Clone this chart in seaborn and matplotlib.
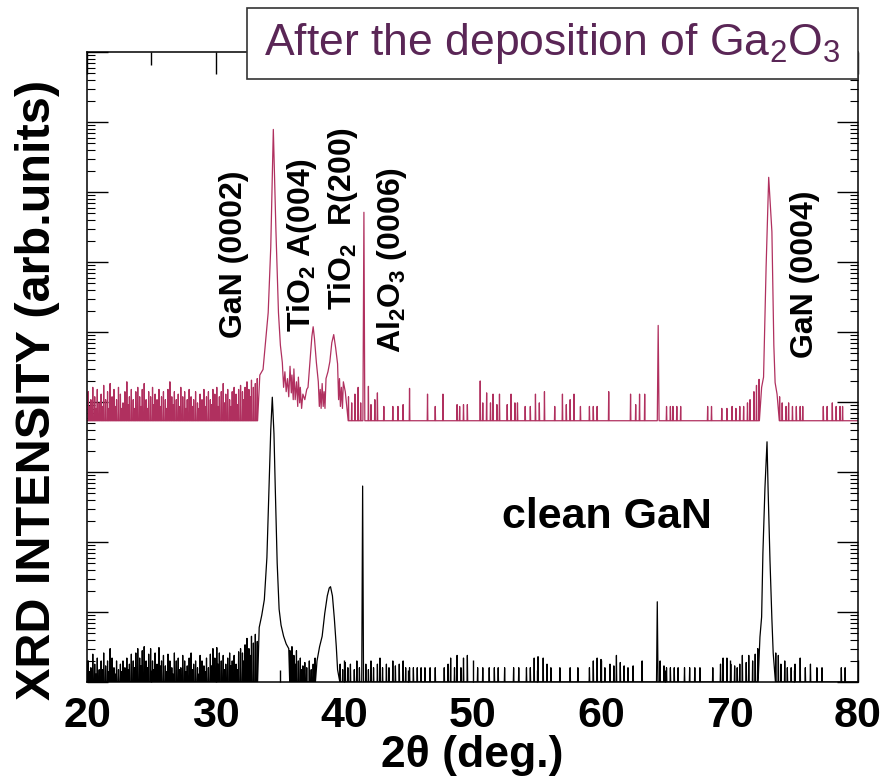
import numpy as np
import pandas as pd
import matplotlib
matplotlib.use("Agg")
import matplotlib.pyplot as plt
import seaborn as sns
from matplotlib.patches import Rectangle
from matplotlib.ticker import LogLocator, MultipleLocator, NullFormatter

# ---------------- data ----------------
# clean GaN (black): peak profiles (2theta, counts)
clean_peak_x = [33.40, 33.60, 33.80, 34.00, 34.15, 34.30, 34.42, 34.55, 34.65, 34.80, 34.95, 35.10, 35.30, 35.50, 35.70,
                37.90, 38.10, 38.30, 38.50, 38.70, 38.85, 38.95, 39.10, 39.25, 39.40, 39.50,
                41.38, 41.45, 41.52,
                64.32, 64.38, 64.44,
                72.37, 72.50, 72.60, 72.76, 72.92, 73.00, 73.15, 73.30, 73.40]
clean_peak_y = [6.0, 9.0, 15, 60, 500, 4000, 11700, 3500, 600, 50, 11, 6.5, 4.5, 3.5, 3.0,
                2.0, 3.2, 4.5, 9.5, 17, 22, 23, 17, 8, 3.2, 1.5,
                1.0, 630, 1.0,
                1.0, 14, 1.0,
                4.4, 8.5, 70, 600, 2700, 600, 55, 7.8, 2.6]
# clean GaN noise spikes (2theta, counts)
clean_spike_x = [20.1, 20.2, 20.3, 20.45, 20.6, 20.7, 20.8, 20.95, 21.1, 21.2, 21.3, 21.45, 21.6, 21.7, 21.8, 21.95,
                 22.1, 22.2, 22.3, 22.45, 22.6, 22.7, 22.8, 22.95, 23.1, 23.2, 23.3, 23.45, 23.6, 23.7, 23.8, 23.95,
                 24.1, 24.2, 24.3, 24.45, 24.6, 24.7, 24.8, 24.95, 25.1, 25.2, 25.3, 25.45, 25.6, 25.7, 25.8, 25.95,
                 26.1, 26.2, 26.3, 26.45, 26.6, 26.7, 26.8, 26.95, 27.1, 27.2, 27.3, 27.45, 27.6, 27.7, 27.8, 27.95,
                 28.1, 28.2, 28.3, 28.45, 28.6, 28.7, 28.8, 28.95, 29.1, 29.2, 29.3, 29.45, 29.6, 29.7, 29.8, 29.95,
                 30.1, 30.2, 30.3, 30.45, 30.6, 30.7, 30.8, 30.95, 31.1, 31.2, 31.3, 31.45, 31.6, 31.7, 31.8, 31.95,
                 32.1, 32.2, 32.3, 32.45, 32.6, 32.7, 32.8, 32.95, 33.1, 33.25,
                 35.8, 35.95, 36.1, 36.2, 36.3, 36.45, 36.6, 36.7, 36.8, 36.95, 37.1, 37.3, 37.45, 37.6, 37.75,
                 39.7, 39.9, 40.1, 40.3, 40.5, 40.8, 41.0, 41.2,
                 41.7, 41.9, 42.1, 42.3, 42.6, 42.8, 43.0, 43.3, 43.5, 43.8, 44.0, 44.3, 44.6, 44.8,
                 45.1, 45.4, 45.7, 46.0, 46.3, 46.7, 47.1, 47.8, 48.1, 48.3, 48.6, 48.8, 49.1, 49.3, 49.6,
                 50.4, 50.8, 51.3, 51.7, 52.0, 52.5, 53.2, 53.6, 54.2, 54.5, 54.8, 55.1, 55.5, 55.8, 56.1, 56.8,
                 57.6, 58.2, 59.1, 59.4, 59.7, 60.0, 60.3, 60.7, 61.0, 61.2, 61.5, 61.8, 62.1, 62.5, 63.2,
                 64.6, 64.9, 65.1, 65.4, 65.7, 66.0, 66.5, 66.9, 67.3, 67.7,
                 68.7, 69.3, 69.5, 69.8, 70.1, 70.4, 70.6, 70.8, 71.0, 71.3, 71.5, 71.8, 72.0, 72.2,
                 73.6, 73.8, 74.0, 74.3, 74.5, 74.8, 75.1, 75.5, 75.9, 76.3, 76.8, 77.2, 78.7, 79.0]
clean_spike_h = [2.0, 1.4, 1.6, 2.5, 1.8, 1.3, 2.2, 1.5, 2.0, 1.5, 2.6, 1.7, 2.0, 1.4, 3.0, 2.2,
                 1.6, 1.3, 2.0, 1.5, 1.8, 1.4, 2.0, 1.6, 2.2, 1.5, 1.8, 2.5, 2.0, 1.6, 2.6, 3.0,
                 2.2, 1.7, 2.8, 3.2, 2.0, 1.6, 2.5, 3.0, 2.0, 1.5, 2.6, 1.8, 3.1, 1.7, 2.0, 2.4,
                 1.7, 1.4, 2.5, 2.0, 1.6, 1.3, 2.6, 2.0, 2.2, 1.5, 1.6, 2.4, 2.0, 1.4, 1.7, 2.2,
                 2.6, 1.5, 1.8, 2.0, 1.6, 1.3, 2.4, 2.0, 1.7, 1.4, 2.2, 1.6, 2.5, 1.7, 3.0, 2.2,
                 3.1, 1.8, 2.6, 2.0, 2.4, 1.5, 1.8, 2.2, 2.6, 1.7, 2.0, 2.4, 1.8, 1.5, 2.7, 3.0,
                 2.6, 2.0, 3.4, 4.2, 3.0, 2.4, 4.5, 3.6, 4.8, 3.8,
                 2.8, 3.2, 2.4, 1.8, 2.8, 2.0, 2.2, 1.5, 1.7, 1.9, 1.6, 2.0, 1.5, 1.8, 2.2,
                 1.8, 1.5, 1.9, 1.6, 1.8, 1.5, 2.0, 1.6,
                 1.8, 1.5, 2.0, 1.6, 1.8, 2.2, 1.6, 1.8, 1.6, 2.0, 1.7, 1.8, 2.0, 1.6,
                 1.6, 1.6, 1.6, 1.6, 1.6, 1.6, 1.6, 1.6, 1.8, 2.2, 1.6, 2.4, 1.6, 2.2, 2.4,
                 1.6, 1.6, 1.6, 1.6, 1.6, 1.6, 1.6, 1.6, 1.6, 1.6, 2.2, 2.3, 2.2, 1.8, 1.6, 1.6,
                 1.6, 1.6, 1.6, 2.0, 2.2, 2.1, 1.6, 1.8, 1.7, 2.4, 1.9, 1.7, 1.6, 1.7, 2.0,
                 2.0, 1.7, 1.6, 1.6, 1.6, 1.6, 1.6, 1.6, 1.6, 1.6,
                 1.6, 1.8, 2.2, 2.2, 1.8, 1.7, 1.6, 1.8, 2.4, 1.9, 2.4, 2.0, 2.5, 3.0,
                 2.6, 2.4, 1.8, 2.0, 1.6, 1.6, 1.8, 2.2, 1.6, 1.8, 1.6, 1.6, 1.6, 1.6]

# after Ga2O3 deposition (maroon): peak profiles (2theta, counts before offset)
dep_peak_x = [33.45, 33.70, 33.90, 34.10, 34.30, 34.50, 34.70, 34.90, 35.05, 35.20, 35.30, 35.40, 35.50, 35.60,
              35.70, 35.80, 35.90, 35.95, 36.05, 36.10, 36.20, 36.30, 36.40, 36.45, 36.55, 36.60, 36.70, 36.80, 36.95, 37.10,
              37.20, 37.35, 37.50, 37.60, 37.70, 37.85, 38.00, 38.08, 38.15, 38.22, 38.30, 38.38, 38.45, 38.52, 38.60, 38.75,
              38.90, 39.05, 39.20, 39.35, 39.50, 39.58, 39.65, 39.72, 39.80, 39.88, 39.95, 40.10,
              41.47, 41.55, 41.62,
              64.38, 64.45, 64.52,
              72.50, 72.65, 72.85, 73.05, 73.30, 73.45, 73.55, 73.70]
dep_peak_y = [4.5, 5.4, 14, 35, 300, 14500, 540, 35, 12, 6.8, 3.0, 5.0, 2.6, 4.0,
              2.2, 6.0, 2.5, 4.5, 2.0, 5.5, 2.0, 3.6, 1.6, 4.2, 1.8, 3.0, 1.5, 2.4, 2.0, 2.8,
              3.0, 6.8, 16, 22, 15, 6.8, 3.6, 1.6, 2.8, 1.5, 3.4, 1.6, 2.6, 1.5, 4.0, 5.0,
              7.0, 13, 17, 11, 6.5, 2.0, 4.0, 1.6, 3.0, 1.5, 3.6, 2.6,
              1.0, 950, 1.0,
              1.0, 23, 1.0,
              3.0, 4.2, 160, 3000, 500, 12, 3.5, 2.4]
dep_spike_x = [20.1, 20.2, 20.3, 20.45, 20.6, 20.7, 20.8, 20.95, 21.1, 21.2, 21.3, 21.45, 21.6, 21.7, 21.8, 21.95,
               22.1, 22.2, 22.3, 22.45, 22.6, 22.7, 22.8, 22.95, 23.1, 23.2, 23.3, 23.45, 23.6, 23.7, 23.8, 23.95,
               24.1, 24.2, 24.3, 24.45, 24.6, 24.7, 24.8, 24.95, 25.1, 25.2, 25.3, 25.45, 25.6, 25.7, 25.8, 25.95,
               26.1, 26.2, 26.3, 26.45, 26.6, 26.7, 26.8, 26.95, 27.1, 27.2, 27.3, 27.45, 27.6, 27.7, 27.8, 27.95,
               28.1, 28.2, 28.3, 28.45, 28.6, 28.7, 28.8, 28.95, 29.1, 29.2, 29.3, 29.45, 29.6, 29.7, 29.8, 29.95,
               30.1, 30.2, 30.3, 30.45, 30.6, 30.7, 30.8, 30.95, 31.1, 31.2, 31.3, 31.45, 31.6, 31.7, 31.8, 31.95,
               32.1, 32.2, 32.3, 32.45, 32.6, 32.7, 32.8, 32.95, 33.1, 33.25,
               40.35, 40.6, 40.85, 41.1, 41.3,
               41.9, 42.1, 42.4, 42.6, 43.1, 43.8, 44.2, 44.6, 45.1,
               46.5, 47.1, 47.7, 48.8, 49.0, 49.3, 49.6, 50.6, 50.8, 51.1, 51.4, 51.6, 51.9, 52.1, 52.7, 53.0,
               53.3, 53.5, 54.1, 54.5, 54.9, 55.2, 55.6, 56.4, 57.0, 57.3, 57.6, 57.9, 58.4, 59.1, 59.4, 59.7,
               60.6, 62.3, 62.7, 63.0, 63.4,
               65.1, 65.4, 65.6, 65.9, 66.2, 68.3, 68.6, 69.4, 69.8, 70.2, 70.5, 70.8, 71.1, 71.4, 71.6, 71.9,
               72.1, 72.3,
               73.9, 74.1, 74.4, 74.6, 74.9, 75.2, 75.5, 75.7, 77.3, 77.6, 78.0, 78.3, 78.6, 78.8]
dep_spike_h = [2.6, 1.6, 2.0, 3.0, 2.2, 1.5, 2.8, 1.8, 2.4, 1.6, 3.2, 2.0, 2.6, 1.5, 3.4, 2.2,
               2.8, 1.6, 2.0, 3.0, 2.4, 1.5, 1.8, 2.6, 3.6, 1.7, 2.2, 2.8, 2.0, 1.5, 2.6, 3.0,
               2.2, 1.6, 2.8, 3.4, 2.0, 1.5, 2.6, 2.2, 3.0, 1.7, 2.4, 2.0, 2.8, 1.6, 2.2, 2.6,
               2.0, 1.5, 2.8, 3.6, 2.2, 1.7, 2.6, 2.0, 2.4, 1.6, 3.0, 2.2, 2.6, 1.5, 2.0, 2.8,
               2.2, 1.6, 2.0, 2.6, 1.8, 1.5, 2.4, 2.0, 2.8, 1.6, 2.2, 2.6, 2.0, 1.7, 2.8, 2.4,
               3.0, 1.6, 2.2, 2.6, 3.4, 1.8, 2.4, 2.8, 2.0, 1.6, 2.6, 3.0, 2.4, 1.7, 2.8, 3.2,
               2.6, 2.0, 3.0, 3.6, 2.8, 2.2, 3.8, 3.0, 3.4, 4.0,
               2.2, 1.8, 2.4, 3.0, 1.8,
               3.1, 1.7, 2.0, 2.5, 1.6, 1.6, 1.6, 1.7, 2.9,
               2.4, 1.6, 2.4, 1.7, 1.6, 1.7, 1.7, 3.7, 1.8, 2.5, 1.8, 2.4, 1.7, 2.4, 1.7, 2.4,
               1.8, 1.8, 1.6, 1.6, 2.4, 1.8, 2.6, 1.6, 2.4, 1.7, 2.0, 2.4, 1.6, 1.6, 1.6, 1.6,
               2.6, 2.4, 1.7, 2.4, 2.4,
               1.6, 1.6, 1.6, 1.6, 1.6, 1.6, 1.6, 1.5, 1.5, 1.6, 1.5, 1.6, 1.6, 1.8, 2.0, 2.6,
               3.2, 3.9,
               2.2, 1.8, 1.6, 1.8, 1.6, 1.6, 1.6, 1.6, 1.6, 1.6, 1.8, 1.6, 1.6, 1.6]

DEP_OFFSET = 5.4e3   # vertical offset factor of the upper pattern

x_ticks = [20, 30, 40, 50, 60, 70, 80]
peak_labels = ["GaN (0002)", "TiO$_2$ A(004)", "TiO$_2$  R(200)", "Al$_2$O$_3$ (0006)", "GaN (0004)"]
peak_label_x = [31.45, 36.75, 39.95, 43.7, 75.9]
peak_label_y = [10**4.91, 10**5.0, 10**5.31, 10**4.7, 10**4.63]


def build(px, py, sx, sh, base=1.0, hw=0.025):
    xs = [20.0, 80.0] + list(px)
    ys = [base, base] + list(py)
    for x, h in zip(sx, sh):
        xs += [x - hw, x, x + hw]
        ys += [base, h, base]
    return pd.DataFrame({"two_theta": xs, "counts": ys}).sort_values("two_theta").reset_index(drop=True)


clean = build(clean_peak_x, clean_peak_y, clean_spike_x, clean_spike_h)
dep = build(dep_peak_x, dep_peak_y, dep_spike_x, dep_spike_h)
dep["counts"] = dep["counts"] * DEP_OFFSET

# ---------------- style ----------------
sns.set_style("ticks")
plt.rcParams["font.family"] = ["Liberation Sans", "DejaVu Sans"]
plt.rcParams["mathtext.default"] = "regular"
for k in ["text.color", "axes.labelcolor", "xtick.color", "ytick.color", "axes.edgecolor"]:
    plt.rcParams[k] = "black"

W, H = 893, 780
fig = plt.figure(figsize=(W / 100, H / 100), dpi=100)
L, R, T, B = 87, 858, 52, 682
ax = fig.add_axes([L / W, 1 - B / H, (R - L) / W, (B - T) / H])

sns.lineplot(data=clean, x="two_theta", y="counts", ax=ax, color="black", lw=0.9,
             estimator=None, sort=False)
sns.lineplot(data=dep, x="two_theta", y="counts", ax=ax, color="#b0305f", lw=0.9,
             estimator=None, sort=False)

ax.set_yscale("log")
ax.set_ylim(1, 1e9)
ax.set_xlim(20, 80)
ax.set_xticks(x_ticks)
ax.xaxis.set_minor_locator(MultipleLocator(5))
ax.yaxis.set_major_locator(LogLocator(base=10, numticks=20))
ax.yaxis.set_minor_locator(LogLocator(base=10, subs=np.arange(2, 10), numticks=200))
ax.yaxis.set_minor_formatter(NullFormatter())
ax.set_yticklabels([])
ax.tick_params(axis="both", which="both", direction="in", top=True, right=True,
               bottom=True, left=True, color="black", width=1.0)
ax.tick_params(axis="y", which="major", length=15)
ax.tick_params(axis="y", which="minor", length=6, width=0.8)
ax.tick_params(axis="x", which="major", length=16, labelsize=31, pad=10, labelcolor="black")
ax.tick_params(axis="x", which="minor", length=9)
for lbl in ax.get_xticklabels():
    lbl.set_fontweight("bold")
for s in ax.spines.values():
    s.set_linewidth(1.1)
    s.set_color("black")

ax.set_xlabel("")
ax.set_ylabel("")
fig.text((L + R) / 2 / W, 1 - 756 / H, "2θ (deg.)", ha="center", va="center",
         fontsize=32, fontweight="bold", color="black")
fig.text(38 / W, 1 - 390 / H, "XRD INTENSITY (arb.units)", rotation=90, ha="center",
         va="center", fontsize=35, fontweight="bold", color="black")

for txt, x, y in zip(peak_labels, peak_label_x, peak_label_y):
    ax.text(x, y, txt, rotation=90, ha="center", va="bottom", fontsize=23,
            fontweight="bold", color="black")

ax.text(60.47, 10**2.36, "clean GaN", ha="center", va="center", fontsize=31,
        fontweight="bold", color="black")

# title box
bx0, bx1, by0, by1 = 247, 858, 8, 79
fig.add_artist(Rectangle((bx0 / W, 1 - by1 / H), (bx1 - bx0) / W, (by1 - by0) / H,
                         transform=fig.transFigure, facecolor="white",
                         edgecolor="#333333", lw=1.2, zorder=5))
fig.text((bx0 + bx1) / 2 / W, 1 - 44 / H, "After the deposition of Ga$_2$O$_3$",
         ha="center", va="center", fontsize=32, color="#5a2656", zorder=6)

fig.savefig("out.png", dpi=100)
